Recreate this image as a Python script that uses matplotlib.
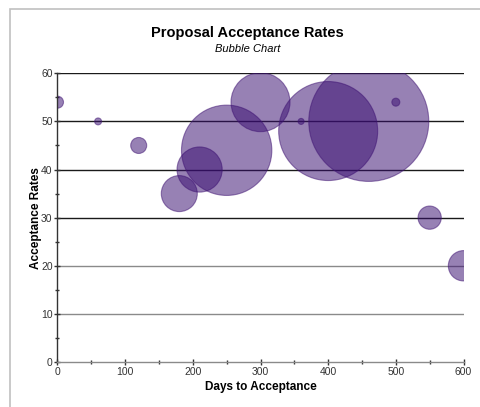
import matplotlib
matplotlib.use("Agg")
import matplotlib.pyplot as plt
from matplotlib.patches import Rectangle
from matplotlib.ticker import MultipleLocator

plt.rcParams["font.family"] = ["Liberation Sans", "DejaVu Sans"]

# Days to acceptance, acceptance rate (%), bubble volume (px^2 of radius)
days = [0, 60, 120, 180, 210, 250, 300, 360, 400, 460, 500, 550, 600]
rates = [54, 50, 45, 35, 40, 44, 54, 50, 48, 50, 54, 30, 20]
volume = [36, 12, 64, 324, 510, 2040, 870, 9, 2450, 3600, 16, 135, 230]

x_ticks = [0, 100, 200, 300, 400, 500, 600]
y_ticks = [0, 10, 20, 30, 40, 50, 60]

W, H, DPI = 481, 407, 100
fig = plt.figure(figsize=(W / DPI, H / DPI), dpi=DPI)
fig.patch.set_facecolor("white")

# light frame around the chart
fig.add_artist(Rectangle((9.5 / W, -0.1), 1.2, 1.1 - 8.5 / H,
                         transform=fig.transFigure, fill=False,
                         edgecolor="#c0c0c0", linewidth=1.2))

ax = fig.add_axes([57.5 / W, (H - 362) / H, 406 / W, 288.7 / H])
ax.set_xlim(0, 600)
ax.set_ylim(0, 60)

# horizontal grid lines
for v in y_ticks[1:]:
    col = "#1a1a1a" if v >= 30 else "#8a8a8a"
    ax.axhline(v, color=col, linewidth=1.0, zorder=1)

# marker area in points^2 from pixel radius^2
scale = (2 * 72 / DPI) ** 2
sizes = [v * scale for v in volume]
ax.scatter(days, rates, s=sizes, c=[(0.22, 0.05, 0.44)], alpha=0.52,
           edgecolors=[(0.25, 0.08, 0.45, 0.7)], linewidths=0.8, zorder=2)

for side in ["top", "right"]:
    ax.spines[side].set_visible(False)
ax.spines["left"].set_color("#333333")
ax.spines["bottom"].set_color("#8a8a8a")
ax.spines["left"].set_linewidth(1.0)
ax.spines["bottom"].set_linewidth(1.0)

ax.set_xticks(x_ticks)
ax.set_yticks(y_ticks)
ax.xaxis.set_minor_locator(MultipleLocator(50))
ax.yaxis.set_minor_locator(MultipleLocator(5))
ax.tick_params(axis="both", which="both", direction="inout", colors="#333333",
               labelsize=7.5, labelcolor="#333333", width=1.0)
ax.tick_params(axis="both", which="major", length=4, pad=1.5)
ax.tick_params(axis="both", which="minor", length=3)

ax.set_xlabel("Days to Acceptance", fontsize=8.5, fontweight="bold", labelpad=3)
ax.set_ylabel("Acceptance Rates", fontsize=8.5, fontweight="bold", labelpad=-1)

fig.text(247.5 / W, 1 - 33 / H, "Proposal Acceptance Rates", ha="center",
         va="center", fontsize=10.5, fontweight="bold")
fig.text(247.5 / W, 1 - 49 / H, "Bubble Chart", ha="center", va="center",
         fontsize=8, fontstyle="italic")

fig.savefig("out.png", dpi=DPI)
